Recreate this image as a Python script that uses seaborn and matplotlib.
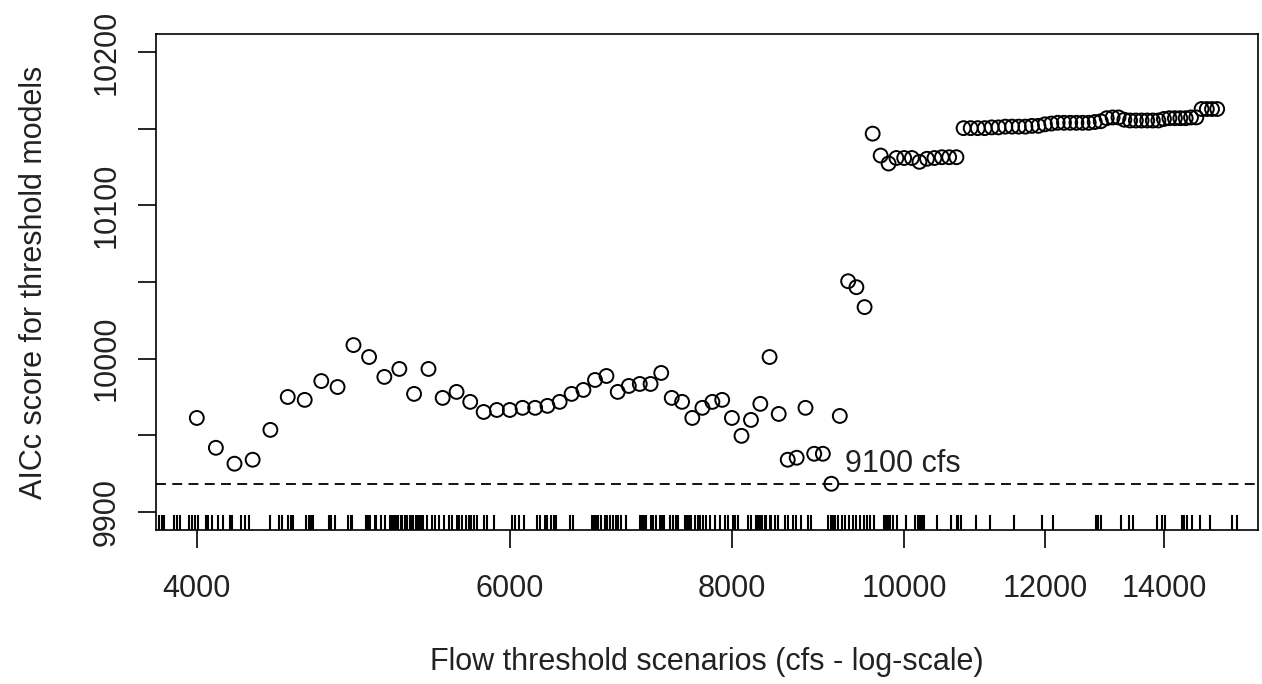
import numpy as np
import pandas as pd
import matplotlib
matplotlib.use("Agg")
import matplotlib.pyplot as plt
import seaborn as sns

# ---------------- data ----------------
thresholds = [
    4000, 4100, 4200, 4300, 4400, 4500, 4600, 4700, 4800, 4900,
    5000, 5100, 5200, 5300, 5400, 5500, 5600, 5700, 5800, 5900,
    6000, 6100, 6200, 6300, 6400, 6500, 6600, 6700, 6800, 6900,
    7000, 7100, 7200, 7300, 7400, 7500, 7600, 7700, 7800, 7900,
    8000, 8100, 8200, 8300, 8400, 8500, 8600, 8700, 8800, 8900,
    9000, 9100, 9200, 9300, 9400, 9500, 9600, 9700, 9800, 9900,
    10000, 10100, 10200, 10300, 10400, 10500, 10600, 10700, 10800, 10900,
    11000, 11100, 11200, 11300, 11400, 11500, 11600, 11700, 11800, 11900,
    12000, 12100, 12200, 12300, 12400, 12500, 12600, 12700, 12800, 12900,
    13000, 13100, 13200, 13300, 13400, 13500, 13600, 13700, 13800, 13900,
    14000, 14100, 14200, 14300, 14400, 14500, 14600, 14700, 14800, 14900,
    15000,
]
aicc = [
    9961.2, 9941.7, 9931.3, 9933.9, 9953.4, 9974.9, 9973.0, 9985.3, 9981.4, 10008.8,
    10001.0, 9988.0, 9993.2, 9976.9, 9993.2, 9974.3, 9978.2, 9971.7, 9965.1, 9966.4,
    9966.4, 9967.8, 9967.8, 9969.1, 9971.7, 9976.9, 9979.5, 9986.0, 9988.6, 9978.2,
    9982.1, 9983.4, 9983.4, 9990.6, 9974.3, 9971.7, 9961.2, 9967.8, 9971.7, 9973.0,
    9961.2, 9949.5, 9959.9, 9970.4, 10001.0, 9963.8, 9933.9, 9935.2, 9967.8, 9937.8,
    9937.8, 9918.2, 9962.5, 10050.5, 10046.6, 10033.6, 10146.9, 10132.6, 10127.4, 10131.0,
    10131.0, 10131.0, 10128.5, 10130.5, 10131.0, 10131.5, 10131.5, 10131.5, 10150.5, 10150.5,
    10150.5, 10150.5, 10151.0, 10151.0, 10151.5, 10151.5, 10151.5, 10151.5, 10152.0, 10152.0,
    10153.0, 10153.5, 10154.0, 10154.0, 10154.0, 10154.0, 10154.0, 10154.0, 10154.5, 10155.0,
    10157.0, 10157.5, 10157.5, 10156.0, 10155.5, 10155.5, 10155.5, 10155.5, 10155.5, 10155.5,
    10156.5, 10157.0, 10157.0, 10157.0, 10157.0, 10157.5, 10157.5, 10163.0, 10163.0, 10163.0,
    10163.0,
]
rug_flows = [
    3809, 3823, 3833, 3883, 3898, 3913, 3959, 3974, 3990, 4005, 4047, 4057, 4078, 4110,
    4136, 4173, 4184, 4238, 4260, 4282, 4400, 4451, 4468, 4503, 4520, 4532, 4609, 4627,
    4639, 4651, 4747, 4759, 4784, 4865, 4884, 4890, 4978, 4991, 5004, 5036, 5043, 5076,
    5102, 5135, 5148, 5161, 5175, 5188, 5208, 5221, 5235, 5255, 5269, 5282, 5296, 5310,
    5323, 5337, 5351, 5365, 5393, 5428, 5449, 5477, 5513, 5548, 5569, 5605, 5620, 5641,
    5670, 5692, 5707, 5729, 5751, 5803, 5826, 5878, 6017, 6040, 6072, 6110, 6213, 6237,
    6281, 6297, 6330, 6354, 6370, 6487, 6512, 6675, 6692, 6709, 6727, 6753, 6788, 6805,
    6832, 6858, 6885, 6903, 6930, 6975, 7102, 7120, 7139, 7157, 7204, 7223, 7251, 7289,
    7308, 7326, 7383, 7412, 7441, 7460, 7528, 7547, 7567, 7586, 7625, 7654, 7674, 7704,
    7734, 7774, 7825, 7876, 7927, 7957, 8009, 8030, 8061, 8165, 8197, 8250, 8272, 8293,
    8315, 8347, 8358, 8401, 8411, 8455, 8488, 8565, 8599, 8654, 8688, 8744, 8824, 8858,
    9055, 9090, 9114, 9138, 9173, 9232, 9268, 9316, 9353, 9389, 9438, 9499, 9524, 9561,
    9622, 9748, 9773, 9799, 9824, 9862, 9913, 10030, 10137, 10182, 10212, 10239, 10266,
    10431, 10622, 10705, 10728, 10757, 10980, 11177, 11529, 11947, 12120, 12814, 12846,
    12906, 13245, 13388, 13447, 13877, 13968, 14027, 14334, 14377, 14426, 14519, 14664,
    14854, 15292, 15391,
]
xtick_values = [4000, 6000, 8000, 10000, 12000, 14000]
xtick_labels = ["4000", "6000", "8000", "10000", "12000", "14000"]
ytick_values = [9900, 9950, 10000, 10050, 10100, 10150, 10200]
ytick_labels = ["9900", "", "10000", "", "10100", "", "10200"]
best_threshold = 9100
best_label = "9100 cfs"
x_title = "Flow threshold scenarios (cfs - log-scale)"
y_title = "AICc score for threshold models"

# ---------------- style ----------------
sns.set_theme(style="white")
plt.rcParams["font.family"] = ["Liberation Sans", "DejaVu Sans"]
FS = 22

W, H = 1262, 684
fig = plt.figure(figsize=(W / 100, H / 100), dpi=100)
fig.patch.set_facecolor("white")
L, R, T, B = 156, 1258, 34, 530
ax = fig.add_axes([L / W, (H - B) / H, (R - L) / W, (B - T) / H])
ax.set_facecolor("white")
ax.set_xscale("log")

df = pd.DataFrame({"threshold": thresholds, "aicc": aicc})
sns.scatterplot(data=df, x="threshold", y="aicc", ax=ax, marker="o", s=100,
                color="black", linewidth=1.4, zorder=3)
pts = ax.collections[-1]
pts.set_facecolor("none")
pts.set_edgecolor("black")

sns.rugplot(x=rug_flows, ax=ax, height=0.03, color="black", linewidth=1.5,
            expand_margins=False)

ymin = min(aicc)
ax.axhline(ymin, color="black", linewidth=1.3, linestyle=(0, (5.5, 3.5)), zorder=2)
ax.annotate(best_label, xy=(best_threshold, ymin), xytext=(9.5, 14.5),
            textcoords="offset points", fontsize=FS, ha="left", va="center",
            color="#222222")

# limits (R-style 4% padding)
lx, hx = np.log10(min(thresholds)), np.log10(max(thresholds))
px = 0.04 * (hx - lx)
ax.set_xlim(10 ** (lx - px), 10 ** (hx + px))
ylo, yhi = ytick_values[0], ytick_values[-1]
py = 0.04 * (yhi - ylo)
ax.set_ylim(ylo - py, yhi + py)

ax.xaxis.set_minor_locator(matplotlib.ticker.NullLocator())
ax.set_xticks(xtick_values)
ax.set_xticklabels(xtick_labels)
ax.set_yticks(ytick_values)
ax.set_yticklabels(ytick_labels, rotation=90, va="center")

ax.tick_params(axis="both", which="major", direction="out", length=13, width=1.2,
               color="black", labelsize=FS, labelcolor="#222222",
               bottom=True, left=True)
ax.tick_params(axis="x", pad=19)
ax.tick_params(axis="y", pad=12)

for s in ax.spines.values():
    s.set_visible(True)
    s.set_color("black")
    s.set_linewidth(1.2)

ax.set_xlabel(x_title, fontsize=FS, color="#222222")
ax.set_ylabel(y_title, fontsize=FS, color="#222222")
ax.xaxis.set_label_coords(0.5, (B - 647) / (B - T))
ax.yaxis.set_label_coords((49 - L) / (R - L), 0.5)

fig.savefig("out.png", dpi=100, facecolor="white")
